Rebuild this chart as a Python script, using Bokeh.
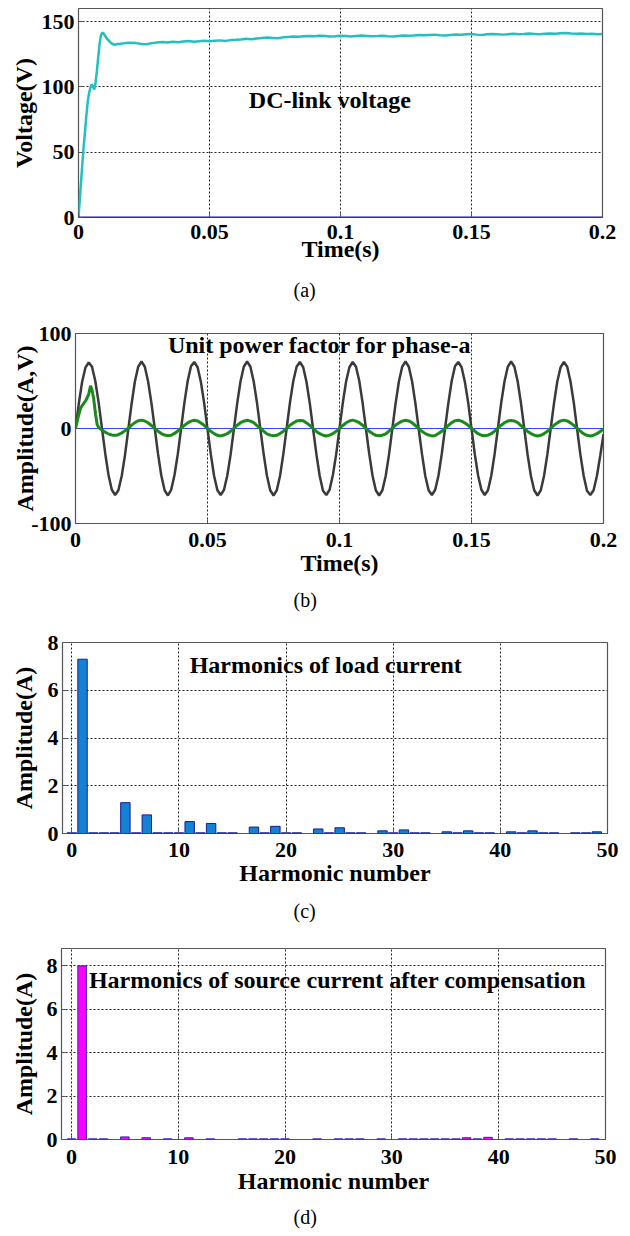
from bokeh.plotting import figure
from bokeh.models import Range1d, FixedTicker, Title, Label
from bokeh.embed import file_html
from bokeh.resources import INLINE

# ---------------- data ----------------
# (a) DC-link voltage (V) vs time (s)
dc_early_step = 0.0005
dc_early_v = [0, 14, 28, 42, 55, 66, 78, 88, 95, 99,
              102, 100, 98, 103, 112, 122, 132, 139, 141.5, 141,
              139.5, 138, 136.5, 135.5, 134.5, 133.5, 132.8, 132.4, 132.3, 132.6,
              132.8]
dc_late_start = 0.016
dc_late_step = 0.002
dc_late_v = [133, 133.5, 133.8, 133.5, 132.8, 132.6, 133.5, 134, 134.3, 133.9,
             134.5, 134.2, 134.8, 135.2, 134.6, 135, 135.4, 135, 135.3, 135.6,
             135.2, 135.8, 136, 136.3, 136.8, 136.5, 137, 137.4, 137.8, 137.5,
             137.2, 137.9, 138.2, 138.5, 138.3, 138.8, 139, 138.7, 139.1, 138.9,
             138.5, 138.8, 139.2, 138.9, 138.6, 139, 139.3, 139, 138.7, 138.9,
             139.2, 138.8, 138.6, 139, 139.4, 139.1, 139.3, 139.7, 139.5, 139.8,
             140, 139.6, 139.4, 139.8, 140.1, 139.9, 140.2, 140.4, 140, 139.8,
             140.2, 140.5, 140.3, 140, 140.3, 140.6, 140.2, 140.4, 140.8, 140.5,
             140.2, 140.6, 140.9, 140.6, 141, 141.3, 140.9, 140.6, 140.9, 140.4,
             140.7, 140.3, 140.5]
dc_zero_t = [0, 0.2]
dc_zero_v = [0, 0]

# (b) phase-a source voltage (V) and source current (A)
vs_step = 0.00125
vs_v = [0, 26, 49, 64, 69.5, 65, 50, 27.5, 1, -26, -49, -64.5, -70, -65, -50, -28,
        -1, 26, 49.5, 65, 70.5, 65, 49.5, 27, 0.5, -26.5, -49.5, -65, -70.5, -64.5, -49, -27,
        0, 27, 50, 65.5, 70, 64.5, 49, 26.5, -0.5, -27, -50, -65, -70, -64.5, -49.5, -27.5,
        -0.5, 26.5, 49.5, 65, 70.5, 65, 49.5, 27, 0, -26.5, -49.5, -65, -70.5, -65, -49.5, -26.5,
        0.5, 27.5, 50, 65, 70, 64.5, 49, 26.5, -0.5, -27, -50, -65.5, -70, -64.5, -49, -27,
        0, 27, 49.5, 64.5, 70, 65, 50, 27, 0, -26.5, -49.5, -65, -70.5, -65, -50, -27.5,
        -0.5, 26.5, 49.5, 65, 70.5, 65, 49.5, 26.5, -0.5, -27, -50, -65, -70, -64.5, -49.5, -26.5,
        0.5, 27, 50, 65.5, 70, 64.5, 49, 27, 0, -27, -49.5, -64.5, -70, -65, -49.5, -27,
        0, 27, 49.5, 65, 70.5, 65, 49.5, 26.5, -0.5, -27.5, -50, -65, -70.5, -65, -49.5, -27,
        0, 26.5, 49.5, 64.5, 70, 65, 49.5, 27, -0.5, -27.5, -50, -65.5, -70, -65, -50, -29,
        -6]
is_early_t = [0, 0.001, 0.002, 0.003, 0.004, 0.005, 0.0057, 0.0063, 0.0069, 0.0076,
              0.0082, 0.009, 0.010, 0.011, 0.012, 0.013, 0.014, 0.015, 0.016, 0.017,
              0.018, 0.019]
is_early_v = [0, 12, 22, 26, 30, 36, 45, 40, 31, 15,
              4, 0.5, -1.5, -3.5, -5, -6.3, -7, -7.2, -6.8, -5.5,
              -3.8, -1.8]
is_late_start = 0.02
is_late_v = [0.3, 3.6, 6.2, 8.1, 8.8, 7.9, 6, 3.2, 0.2, -2.8, -5.3, -6.9, -7.6, -7.1, -5.2, -2.6,
             0.4, 3.3, 5.9, 7.8, 8.6, 8, 5.8, 3.4, -0.1, -3, -5.4, -7.2, -7.8, -6.9, -5.5, -2.9,
             0.2, 3.5, 6.1, 7.7, 8.7, 7.8, 6.2, 3.1, 0.3, -2.7, -5.6, -7, -7.7, -7.2, -5.3, -2.8,
             0.1, 3.4, 5.8, 8, 8.5, 8.1, 5.9, 3.3, 0, -3.1, -5.5, -7.1, -7.9, -7, -5.4, -3,
             0.3, 3.2, 6, 7.9, 8.8, 7.7, 6.1, 3.5, 0.2, -2.9, -5.2, -7.2, -7.6, -7.1, -5.6, -2.7,
             0.4, 3.6, 5.9, 7.8, 8.6, 8, 6, 3.2, -0.2, -3, -5.4, -6.9, -7.8, -7.3, -5.3, -2.9,
             0.2, 3.3, 6.2, 8.1, 8.7, 7.8, 5.8, 3.4, 0.1, -2.8, -5.5, -7.1, -7.7, -7, -5.5, -2.8,
             0.3, 3.5, 6, 7.9, 8.5, 7.9, 6.1, 3.1, 0, -3.1, -5.3, -7, -7.9, -7.2, -5.4, -3,
             0.1, 3.4, 5.9, 8, 8.8, 8, 5.9, 3.3, 0.2, -2.9, -5.6, -7.2, -7.8, -7.1, -5.5, -3.1,
             -0.5]
zero_t = [0, 0.2]
zero_v = [0, 0]

# (c) harmonics of load current (A), harmonic order 0..50
harmonic = list(range(0, 51))
load_amp = [0.03, 7.3, 0.03, 0.03, 0.03, 1.29, 0.03, 0.78, 0.03, 0.03,
            0.03, 0.5, 0.03, 0.42, 0.03, 0.03, 0, 0.27, 0.03, 0.3,
            0.03, 0.03, 0, 0.19, 0.03, 0.24, 0.03, 0.03, 0, 0.11,
            0.03, 0.15, 0.03, 0.03, 0, 0.07, 0.03, 0.11, 0.03, 0.03,
            0, 0.07, 0.03, 0.11, 0.03, 0.03, 0, 0.03, 0.03, 0.07,
            0]
# (d) harmonics of source current after compensation (A)
src_amp = [0.03, 8.0, 0.03, 0.03, 0, 0.12, 0, 0.08, 0, 0.03,
           0, 0.08, 0, 0.03, 0, 0, 0.03, 0.03, 0.03, 0.03,
           0.03, 0, 0, 0.03, 0, 0.03, 0.03, 0.03, 0, 0.03,
           0, 0.03, 0.03, 0.03, 0.03, 0.03, 0.03, 0.08, 0.03, 0.1,
           0, 0.03, 0.03, 0.03, 0.03, 0.03, 0, 0.03, 0, 0.03,
           0]

# tick labels
t_ticks = [0, 0.05, 0.1, 0.15, 0.2]
t_labels = ["0", "0.05", "0.1", "0.15", "0.2"]
a_yticks = [0, 50, 100, 150]
a_ylabels = ["0", "50", "100", "150"]
b_yticks = [-100, 0, 100]
b_ylabels = ["-100", "0", "100"]
h_ticks = [0, 10, 20, 30, 40, 50]
h_labels = ["0", "10", "20", "30", "40", "50"]
c_yticks = [0, 2, 4, 6, 8]
c_ylabels = ["0", "2", "4", "6", "8"]

# ---------------- derived x positions ----------------
dc_t = [i * dc_early_step for i in range(len(dc_early_v))] + \
       [dc_late_start + i * dc_late_step for i in range(len(dc_late_v))]
dc_v = dc_early_v + dc_late_v
vs_t = [i * vs_step for i in range(len(vs_v))]
is_t = is_early_t + [is_late_start + i * vs_step for i in range(len(is_late_v))]
is_v = is_early_v + is_late_v

FONT = "Liberation Serif"


def make_fig(h, top, bottom, left, right, xr, yr):
    p = figure(width=630, height=h, x_range=xr, y_range=yr,
               output_backend="svg", toolbar_location=None,
               min_border_top=top, min_border_bottom=bottom,
               min_border_left=left, min_border_right=right)
    p.background_fill_color = "white"
    p.border_fill_color = "white"
    p.outline_line_color = "#555555"
    p.outline_line_width = 1.2
    for ax in (p.xaxis, p.yaxis):
        ax.axis_line_color = None
        ax.major_tick_in = 4
        ax.major_tick_out = 0
        ax.minor_tick_line_color = None
        ax.major_tick_line_color = "#555555"
        ax.major_label_text_font = FONT
        ax.major_label_text_font_style = "bold"
        ax.major_label_text_font_size = "22px"
        ax.major_label_text_color = "black"
        ax.axis_label_text_font = FONT
        ax.axis_label_text_font_style = "bold"
        ax.axis_label_text_font_size = "24px"
        ax.axis_label_text_color = "black"
    for g in (p.xgrid, p.ygrid):
        g.grid_line_color = "black"
        g.grid_line_dash = "2 2"
        g.grid_line_alpha = 0.85
        g.grid_line_width = 1
    return p


def set_ticks(p, xt, xl, yt, yl, xg, yg):
    p.xaxis.ticker = FixedTicker(ticks=xt)
    p.xaxis.major_label_overrides = dict(zip(xt, xl))
    p.yaxis.ticker = FixedTicker(ticks=yt)
    p.yaxis.major_label_overrides = dict(zip(yt, yl))
    p.xgrid.ticker = FixedTicker(ticks=xg)
    p.ygrid.ticker = FixedTicker(ticks=yg)


def caption(p, text, offset, standoff):
    t = Title(text=text, align="left", offset=offset, standoff=standoff,
              text_font=FONT, text_font_style="normal", text_font_size="20px",
              text_color="black")
    p.add_layout(t, "below")


def note(p, x, y, text):
    p.add_layout(Label(x=x, y=y, text=text, text_font=FONT, text_font_style="bold",
                       text_font_size="24px", text_color="black",
                       text_baseline="middle", text_align="left"))


# ---------------- (a) ----------------
pa = make_fig(313, 8, 96, 78, 28, Range1d(0, 0.2), Range1d(0, 160))
set_ticks(pa, t_ticks, t_labels, a_yticks, a_ylabels, [0.05, 0.1, 0.15], [50, 100, 150])
pa.xaxis.axis_label = "Time(s)"
pa.yaxis.axis_label = "Voltage(V)"
pa.xaxis.major_label_standoff = 7
pa.xaxis.axis_label_standoff = -6
pa.yaxis.major_label_standoff = 4
pa.yaxis.axis_label_standoff = 2
pa.line(dc_t, dc_v, line_color="#22c0c0", line_width=2.5)
pa.line(dc_zero_t, dc_zero_v, line_color="#1a1aa8", line_width=2)
note(pa, 0.065, 90, "DC-link voltage")
caption(pa, "(a)", 215, 25)

# ---------------- (b) ----------------
pb = make_fig(305, 20, 95, 75, 27, Range1d(0, 0.2), Range1d(-100, 100))
set_ticks(pb, t_ticks, t_labels, b_yticks, b_ylabels, [0.05, 0.1, 0.15], [0])
pb.xaxis.axis_label = "Time(s)"
pb.yaxis.axis_label = "Amplitude(A,V)"
pb.xaxis.major_label_standoff = 9
pb.xaxis.axis_label_standoff = 0
pb.yaxis.major_label_standoff = 4
pb.yaxis.axis_label_standoff = -10
pb.line(vs_t, vs_v, line_color="#3a3a3a", line_width=2.5)
pb.line(zero_t, zero_v, line_color="#3344ff", line_width=1.2)
pb.line(is_t, is_v, line_color="#1a8a1a", line_width=3)
note(pb, 0.035, 88, "Unit power factor for phase-a")
caption(pb, "(b)", 218, 16)

# ---------------- (c) ----------------
pc = make_fig(313, 24, 98, 62, 23, Range1d(-0.87, 50), Range1d(0, 8))
set_ticks(pc, h_ticks, h_labels, c_yticks, c_ylabels, h_ticks, [2, 4, 6])
pc.xaxis.axis_label = "Harmonic number"
pc.yaxis.axis_label = "Amplitude(A)"
pc.xaxis.major_label_standoff = 9
pc.xaxis.axis_label_standoff = 0
pc.yaxis.major_label_standoff = 4
pc.yaxis.axis_label_standoff = 8
c_x = [h for h, a in zip(harmonic, load_amp) if a > 0]
c_y = [a for a in load_amp if a > 0]
pc.vbar(x=c_x, top=c_y, width=0.88, bottom=0, fill_color="#1581d2",
        line_color="#1c1c96", line_width=1)
note(pc, 11, 7.05, "Harmonics of load current")
caption(pc, "(c)", 231, 19)

# ---------------- (d) ----------------
pd = make_fig(304, 17, 96, 61, 25, Range1d(-0.93, 50), Range1d(0, 8.8))
set_ticks(pd, h_ticks, h_labels, c_yticks, c_ylabels, h_ticks, [2, 4, 6, 8])
pd.xaxis.axis_label = "Harmonic number"
pd.yaxis.axis_label = "Amplitude(A)"
pd.xaxis.major_label_standoff = 10
pd.xaxis.axis_label_standoff = 1
pd.yaxis.major_label_standoff = 4
pd.yaxis.axis_label_standoff = 7
d_x = [h for h, a in zip(harmonic, src_amp) if a > 0]
d_y = [a for a in src_amp if a > 0]
pd.vbar(x=d_x, top=d_y, width=0.8, bottom=0, fill_color="#ff00ff",
        line_color="#2a2ac0", line_width=1)
note(pd, 1.64, 7.37, "Harmonics of  source current after compensation")
caption(pd, "(d)", 232, 15)

# separate roots so each panel keeps its own frame position
open("out.html", "w").write(file_html([pa, pb, pc, pd], INLINE))
